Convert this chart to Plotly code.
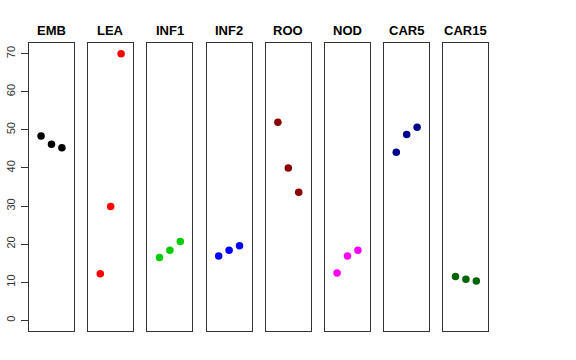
import plotly.graph_objects as go

groups = ["EMB", "LEA", "INF1", "INF2", "ROO", "NOD", "CAR5", "CAR15"]
colors = ["#000000", "#FF0000", "#00CD00", "#0000FF", "#8B0000", "#FF00FF", "#00008B", "#006400"]
x_pos = [1, 2, 3]
values = [
    [48.4, 46.2, 45.3],
    [12.2, 29.9, 70.0],
    [16.5, 18.4, 20.7],
    [16.9, 18.4, 19.6],
    [52.0, 40.0, 33.6],
    [12.4, 16.9, 18.4],
    [44.1, 48.8, 50.7],
    [11.5, 10.8, 10.3],
]
y_ticks = [0, 10, 20, 30, 40, 50, 60, 70]

W, H = 576, 360
left0, step, pw = 29.0, 59.2, 45.0
top, bottom = 43.0, 331.0

fig = go.Figure()
layout = dict(
    width=W, height=H,
    margin=dict(l=0, r=0, t=0, b=0, autoexpand=False),
    paper_bgcolor="white", plot_bgcolor="white",
    showlegend=False,
    font=dict(family="Liberation Sans, Arial, sans-serif", color="black"),
)
annotations = []
for i, (g, c, v) in enumerate(zip(groups, colors, values)):
    n = i + 1
    xa = "x" if n == 1 else f"x{n}"
    ya = "y" if n == 1 else f"y{n}"
    fig.add_trace(go.Scatter(x=x_pos, y=v, mode="markers",
                             marker=dict(color=c, size=7.5),
                             xaxis=xa, yaxis=ya, hoverinfo="skip"))
    l = left0 + step * i
    dom_x = [l / W, (l + pw) / W]
    dom_y = [1 - bottom / H, 1 - top / H]
    layout["xaxis" if n == 1 else f"xaxis{n}"] = dict(
        domain=dom_x, range=[-0.16, 4.16], showticklabels=False, ticks="",
        showgrid=False, zeroline=False, showline=True, mirror=True,
        linecolor="#333333", linewidth=1, anchor=ya, fixedrange=True)
    yd = dict(domain=dom_y, range=[-2.8, 72.8], showgrid=False, zeroline=False,
              showline=True, mirror=True, linecolor="#333333", linewidth=1,
              anchor=xa, fixedrange=True)
    if n == 1:
        yd.update(tickmode="array", tickvals=y_ticks, ticktext=[str(t) for t in y_ticks],
                  ticks="outside", ticklen=7, tickcolor="#333333", tickangle=-90,
                  ticklabelstandoff=2,
                  tickfont=dict(size=11, color="#333333"))
    else:
        yd.update(showticklabels=False, ticks="")
    layout["yaxis" if n == 1 else f"yaxis{n}"] = yd
    annotations.append(dict(text=f"<b>{g}</b>", x=(l + pw / 2) / W, y=1 - 30 / H,
                            xref="paper", yref="paper", xanchor="center", yanchor="middle",
                            showarrow=False, font=dict(size=13, color="black")))
layout["annotations"] = annotations
fig.update_layout(**layout)
fig.write_html("out.html", config={"displayModeBar": False},
               post_script="document.body.style.margin='0';document.body.style.overflow='hidden';")
